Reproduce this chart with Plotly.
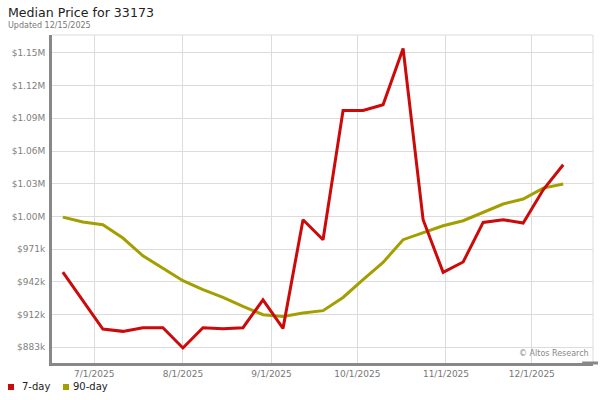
import plotly.graph_objects as go

dates = ["2025-06-20", "2025-06-27", "2025-07-04", "2025-07-11", "2025-07-18", "2025-07-25",
         "2025-08-01", "2025-08-08", "2025-08-15", "2025-08-22", "2025-08-29", "2025-09-05",
         "2025-09-12", "2025-09-19", "2025-09-26", "2025-10-03", "2025-10-10", "2025-10-17",
         "2025-10-24", "2025-10-31", "2025-11-07", "2025-11-14", "2025-11-21", "2025-11-28",
         "2025-12-05", "2025-12-12"]

seven_day = [950800, 925400, 899400, 897300, 900600, 900600, 882300, 900600, 899700, 900600,
             925800, 900000, 998000, 980000, 1096600, 1096600, 1101800, 1152500, 998000, 950500,
             959900, 995600, 998000, 995000, 1025000, 1047600]

ninety_day = [1000400, 995900, 993500, 981500, 965500, 954400, 943000, 934900, 927900, 919800,
              912300, 910800, 913900, 916000, 927900, 943900, 959500, 980000, 986000, 992600,
              997100, 1004600, 1012200, 1016700, 1026600, 1030200]

y_tickvals = [883000, 912500, 942000, 971500, 1001000, 1030500, 1060000, 1089500, 1119000, 1148500]
y_ticktext = ["$883k", "$912k", "$942k", "$971k", "$1.00M", "$1.03M", "$1.06M", "$1.09M", "$1.12M", "$1.15M"]

x_tickvals = ["2025-07-01", "2025-08-01", "2025-09-01", "2025-10-01", "2025-11-01", "2025-12-01"]
x_ticktext = ["7/1/2025", "8/1/2025", "9/1/2025", "10/1/2025", "11/1/2025", "12/1/2025"]

series_names = ["7-day", "90-day"]

RED = "#cc0a0a"
OLIVE = "#a39f00"
FONT = "DejaVu Sans"

fig = go.Figure()
fig.add_trace(go.Scatter(x=dates, y=ninety_day, mode="lines", name=series_names[1],
                         line=dict(color=OLIVE, width=3), showlegend=False, hoverinfo="skip"))
fig.add_trace(go.Scatter(x=dates, y=seven_day, mode="lines", name=series_names[0],
                         line=dict(color=RED, width=3), showlegend=False, hoverinfo="skip"))

# plot area in pixels: x 52..593, y 35..363
def px(x):
    return (x - 52) / 541.0

def py(y):
    return (363 - y) / 328.0

shapes = [
    dict(type="line", xref="paper", yref="paper", x0=0, x1=1, y0=1, y1=1,
         line=dict(color="#dcdcdc", width=1)),
    dict(type="line", xref="paper", yref="paper", x0=1, x1=1, y0=0, y1=1,
         line=dict(color="#dcdcdc", width=1)),
    dict(type="line", xref="paper", yref="paper", x0=0.98, x1=px(598), y0=0, y1=0,
         line=dict(color="#888888", width=3)),
    # legend swatches
    dict(type="rect", xref="paper", yref="paper", x0=px(8), x1=px(14), y0=py(384), y1=py(390),
         fillcolor=RED, line=dict(width=0)),
    dict(type="rect", xref="paper", yref="paper", x0=px(63), x1=px(69), y0=py(384), y1=py(390),
         fillcolor=OLIVE, line=dict(width=0)),
]

annotations = [
    dict(text="Median Price for 33173", xref="paper", yref="paper", x=px(6), y=py(12),
         xanchor="left", yanchor="middle", showarrow=False,
         font=dict(family=FONT, size=12.6, color="#222222")),
    dict(text="Updated 12/15/2025", xref="paper", yref="paper", x=px(6), y=py(25.5),
         xanchor="left", yanchor="middle", showarrow=False,
         font=dict(family=FONT, size=8, color="#777777")),
    dict(text="© Altos Research", xref="paper", yref="paper", x=px(591), y=py(353),
         xanchor="right", yanchor="middle", showarrow=False,
         font=dict(family=FONT, size=8, color="#888888")),
    dict(text=series_names[0], xref="paper", yref="paper", x=px(20), y=py(386.5),
         xanchor="left", yanchor="middle", showarrow=False,
         font=dict(family=FONT, size=10, color="#222222")),
    dict(text=series_names[1], xref="paper", yref="paper", x=px(71), y=py(386.5),
         xanchor="left", yanchor="middle", showarrow=False,
         font=dict(family=FONT, size=10, color="#222222")),
]

fig.update_layout(
    width=600, height=400,
    margin=dict(l=52, r=7, t=35, b=37, autoexpand=False),
    paper_bgcolor="white", plot_bgcolor="white",
    font=dict(family=FONT, size=9, color="#333"),
    showlegend=False,
    xaxis=dict(type="date", range=["2025-06-16 05:00", "2025-12-22 10:00"],
               tickvals=x_tickvals, ticktext=x_ticktext, showgrid=True, gridcolor="#dcdcdc",
               gridwidth=1, showline=True, linecolor="#888888", linewidth=3, ticks="",
               tickfont=dict(family=FONT, size=9, color="#777777"), zeroline=False,
               automargin=False, fixedrange=True),
    yaxis=dict(range=[868750, 1164700], tickvals=y_tickvals, ticktext=y_ticktext,
               showgrid=True, gridcolor="#dcdcdc", gridwidth=1, showline=True,
               linecolor="#888888", linewidth=3, ticks="", ticklabelstandoff=2,
               tickfont=dict(family=FONT, size=9, color="#808080"), zeroline=False,
               automargin=False, fixedrange=True),
    shapes=shapes,
    annotations=annotations,
)

fig.write_html("out.html", config={"displayModeBar": False},
               post_script="document.body.style.margin='0';document.body.style.overflow='hidden';")
